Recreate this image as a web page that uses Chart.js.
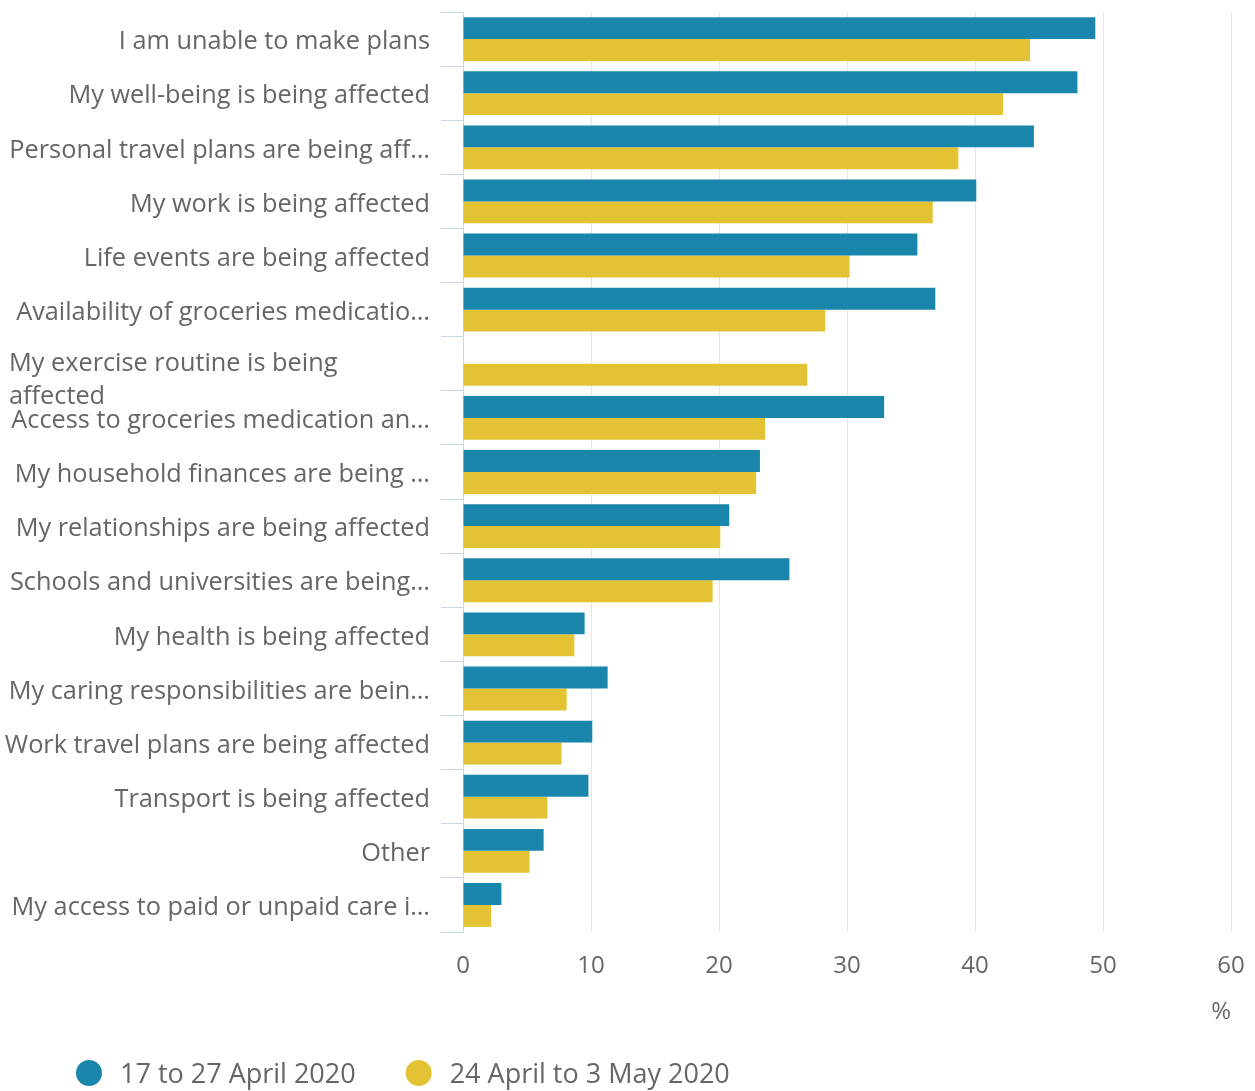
<!DOCTYPE html>
<html>
<head>
<meta charset="utf-8">
<script src="https://cdn.jsdelivr.net/npm/chart.js@4/dist/chart.umd.min.js"></script>
<style>
html,body{margin:0;padding:0;background:#fff;}
#wrap{width:1255px;height:1091px;position:relative;}
</style>
</head>
<body>
<div id="wrap"><canvas id="c" width="1255" height="1091"></canvas></div>
<script>
const categories = [
  "I am unable to make plans",
  "My well-being is being affected",
  "Personal travel plans are being aff\u2026",
  "My work is being affected",
  "Life events are being affected",
  "Availability of groceries medicatio\u2026",
  ["My exercise routine is being", "affected"],
  "Access to groceries medication an\u2026",
  "My household finances are being \u2026",
  "My relationships are being affected",
  "Schools and universities are being\u2026",
  "My health is being affected",
  "My caring responsibilities are bein\u2026",
  "Work travel plans are being affected",
  "Transport is being affected",
  "Other",
  "My access to paid or unpaid care i\u2026"
];
const seriesNames = ["17 to 27 April 2020", "24 April to 3 May 2020"];
const april17to27 = [49.4, 48.0, 44.6, 40.1, 35.5, 36.9, null, 32.9, 23.2, 20.8, 25.5, 9.5, 11.3, 10.1, 9.8, 6.3, 3.0];
const april24toMay3 = [44.3, 42.2, 38.7, 36.7, 30.2, 28.3, 26.9, 23.6, 22.9, 20.1, 19.5, 8.7, 8.1, 7.7, 6.6, 5.2, 2.2];
const xTicks = [0, 10, 20, 30, 40, 50, 60];
const xTitle = "%";

const BLUE = "#1b86ab";
const YELLOW = "#e3c234";
const TEXT = "#666666";

const labelPlugin = {
  id: 'ylabels',
  afterDraw(chart) {
    const ctx = chart.ctx;
    const y = chart.scales.y;
    ctx.save();
    ctx.fillStyle = TEXT;
    ctx.font = "25.3px 'Open Sans'";
    ctx.textBaseline = 'middle';
    categories.forEach((lab, i) => {
      const py = y.getPixelForValue(i);
      if (Array.isArray(lab)) {
        ctx.textAlign = 'left';
        lab.forEach((line, j) => ctx.fillText(line, 9, py + j * 33));
      } else {
        ctx.textAlign = 'right';
        ctx.fillText(lab, 430, py + 3);
      }
    });
    ctx.restore();
  }
};

const legendPlugin = {
  id: 'customLegend',
  afterDraw(chart) {
    const ctx = chart.ctx;
    ctx.save();
    ctx.font = "27px 'Open Sans'";
    ctx.textBaseline = 'middle';
    ctx.textAlign = 'left';
    let x = 89;
    const cy = 1073;
    chart.data.datasets.forEach((ds) => {
      ctx.fillStyle = ds.backgroundColor;
      ctx.beginPath();
      ctx.ellipse(x, cy, 13, 13, 0, 0, Math.PI * 2);
      ctx.fill();
      ctx.fillStyle = TEXT;
      ctx.fillText(ds.label, x + 31, cy + 2);
      const w = ctx.measureText(ds.label).width;
      x = x + 31 + w + 63;
    });
    ctx.restore();
  }
};

new Chart(document.getElementById('c'), {
  type: 'bar',
  data: {
    labels: categories,
    datasets: [
      { label: seriesNames[0], data: april17to27, backgroundColor: BLUE, categoryPercentage: 0.81, barPercentage: 1.0 },
      { label: seriesNames[1], data: april24toMay3, backgroundColor: YELLOW, categoryPercentage: 0.81, barPercentage: 1.0 }
    ]
  },
  options: {
    indexAxis: 'y',
    responsive: false,
    animation: false,
    layout: { padding: { top: 12, right: 24, left: 0, bottom: 0 } },
    plugins: { legend: { display: false }, tooltip: { enabled: false } },
    scales: {
      x: {
        min: 0, max: 60,
        afterBuildTicks: (s) => { s.ticks = xTicks.map(v => ({ value: v })); },
        afterFit: (s) => { s.height = 159; s.paddingRight = 0; s.paddingLeft = 0; },
        grid: { color: '#e6e6e6', drawTicks: false, lineWidth: 1 },
        border: { display: false },
        ticks: { color: TEXT, font: { family: "'Open Sans'", size: 24 }, padding: 20, maxRotation: 0 },
        title: { display: true, text: xTitle, align: 'end', color: TEXT, font: { family: "'Open Sans'", size: 24 }, padding: { top: 0, bottom: 64 } }
      },
      y: {
        afterFit: (s) => { s.width = 463; },
        grid: { offset: true, drawOnChartArea: false, drawTicks: true, tickLength: 22, color: '#ccd6eb', lineWidth: 1 },
        border: { display: true, color: '#ccd6eb', width: 1 },
        ticks: { display: false }
      }
    }
  },
  plugins: [labelPlugin, legendPlugin]
});
</script>
</body>
</html>
